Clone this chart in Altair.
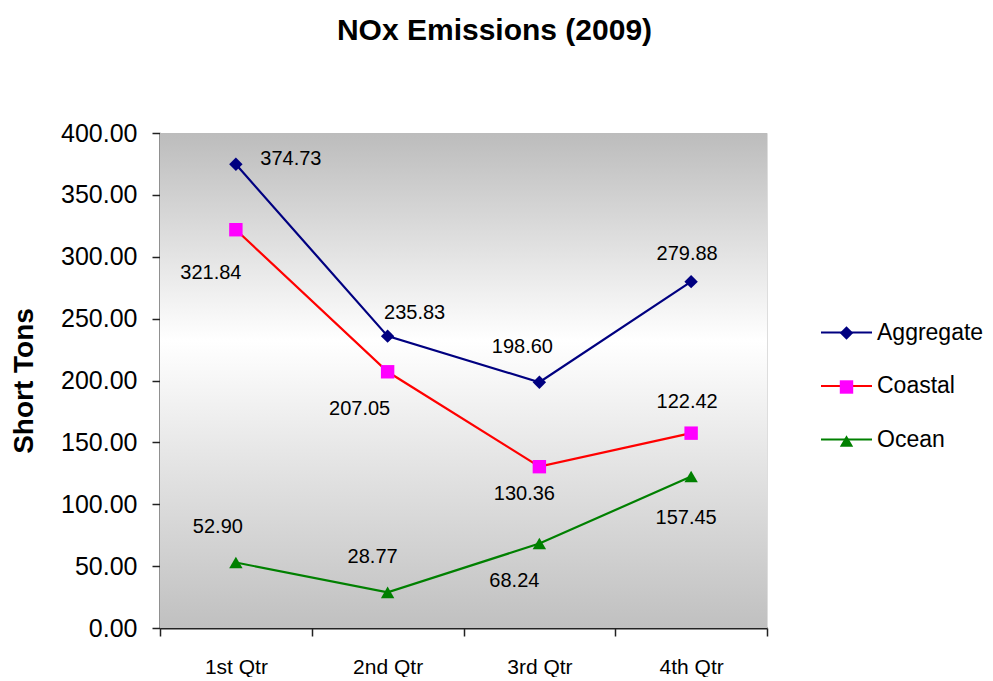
import altair as alt
import pandas as pd

quarters = ["1st Qtr", "2nd Qtr", "3rd Qtr", "4th Qtr"]
series_names = ["Aggregate", "Coastal", "Ocean"]
aggregate = [374.73, 235.83, 198.60, 279.88]
coastal = [321.84, 207.05, 130.36, 157.45]
ocean = [52.90, 28.77, 68.24, 122.42]
# data labels exactly as printed on the original chart
aggregate_labels = ["374.73", "235.83", "198.60", "279.88"]
coastal_labels = ["321.84", "207.05", "130.36", "122.42"]
ocean_labels = ["52.90", "28.77", "68.24", "157.45"]

line_colors = ["#000080", "#ff0000", "#008000"]
marker_colors = ["#000080", "#ff00ff", "#008000"]
marker_shapes = ["diamond", "square", "triangle-up"]

rows = []
for name, vals, labs in zip(series_names, [aggregate, coastal, ocean],
                            [aggregate_labels, coastal_labels, ocean_labels]):
    for q, v, l in zip(quarters, vals, labs):
        rows.append({"quarter": q, "series": name, "value": v, "label": l})
df = pd.DataFrame(rows)

# label placement offsets (dx, dy) relative to each point
label_offsets = {
    ("Aggregate", "1st Qtr"): (55, -5),
    ("Aggregate", "2nd Qtr"): (27, -23),
    ("Aggregate", "3rd Qtr"): (-17, -35),
    ("Aggregate", "4th Qtr"): (-4, -28),
    ("Coastal", "1st Qtr"): (-25, 43),
    ("Coastal", "2nd Qtr"): (-28, 37),
    ("Coastal", "3rd Qtr"): (-15, 27),
    ("Coastal", "4th Qtr"): (-4, -31),
    ("Ocean", "1st Qtr"): (-18, -36),
    ("Ocean", "2nd Qtr"): (-15, -35),
    ("Ocean", "3rd Qtr"): (-25, 37),
    ("Ocean", "4th Qtr"): (-5, 41),
}

FONT = "Liberation Sans"
W, H = 607, 495

x_enc = alt.X(
    "quarter:N",
    sort=quarters,
    bandPosition=0.5,
    scale=alt.Scale(type="band", domain=quarters, paddingInner=0, paddingOuter=0),
    axis=alt.Axis(
        title=None, labelAngle=0, tickBand="extent", tickSize=8, tickColor="#222",
        tickWidth=1.5, domainColor="#222", domainWidth=2, labelFontSize=21,
        labelFont=FONT, labelColor="black", labelPadding=20, grid=False,
    ),
)
y_enc = alt.Y(
    "value:Q",
    scale=alt.Scale(domain=[0, 400], nice=False),
    axis=alt.Axis(
        title="Short Tons", values=[0, 50, 100, 150, 200, 250, 300, 350, 400],
        format=".2f", tickSize=8, tickColor="#222", tickWidth=1.5,
        domainColor="#222", domainWidth=2, labelFontSize=25, labelFont=FONT,
        labelColor="black", labelPadding=15, grid=False, titleFont=FONT,
        titleFontSize=28, titleFontWeight="bold", titleColor="black",
        titlePadding=22,
    ),
)

base = alt.Chart(df)

background = alt.Chart(pd.DataFrame({"a": [0]})).mark_rect(
    color=alt.Gradient(
        gradient="linear",
        stops=[
            alt.GradientStop(offset=0, color="#bcbcbc"),
            alt.GradientStop(offset=0.42, color="#ffffff"),
            alt.GradientStop(offset=1, color="#c0c0c0"),
        ],
        x1=0, x2=0, y1=0, y2=1,
    )
).encode(x=alt.value(0), x2=alt.value("width"), y=alt.value(0), y2=alt.value("height"))

lines = base.mark_line(strokeWidth=2.2).encode(
    x=x_enc,
    y=y_enc,
    color=alt.Color(
        "series:N",
        scale=alt.Scale(domain=series_names, range=line_colors),
        legend=alt.Legend(
            title=None, orient="none", legendX=660, legendY=173, symbolType="stroke",
            symbolSize=2601, symbolStrokeWidth=2, labelFontSize=23, labelFont=FONT,
            labelColor="black", labelOffset=4, rowPadding=14.5, padding=0,
            labelLimit=300,
        ),
    ),
)

pt_legend = alt.Legend(
    title=None, orient="none", legendX=679.5, legendY=193, symbolSize=180,
    symbolStrokeWidth=0, labelExpr="''", labelFontSize=1, rowPadding=40,
    padding=0, symbolOpacity=1,
)
points = base.transform_calculate(series_pt="'' + datum.series").mark_point(
    filled=True, size=180, opacity=1, strokeWidth=0
).encode(
    x=x_enc,
    y=y_enc,
    fill=alt.Fill("series_pt:N", scale=alt.Scale(range=marker_colors),
                  legend=pt_legend),
    shape=alt.Shape("series_pt:N", scale=alt.Scale(range=marker_shapes),
                    legend=pt_legend),
)

text_layers = []
for (s, q), (dx, dy) in label_offsets.items():
    text_layers.append(
        base.transform_filter(
            (alt.datum.series == s) & (alt.datum.quarter == q)
        ).mark_text(
            dx=dx, dy=dy, fontSize=20, font=FONT, color="black",
            align="center", baseline="middle",
        ).encode(x=x_enc, y=y_enc, text="label:N")
    )

chart = alt.layer(background, lines, points, *text_layers).properties(
    width=W,
    height=H,
    title=alt.TitleParams(
        "NOx Emissions (2009)", fontSize=30, font=FONT, fontWeight="bold",
        color="black", anchor="middle", dx=31, offset=75,
    ),
    autosize=alt.AutoSizeParams(type="none"),
    padding={"left": 152, "top": 125, "right": 218, "bottom": 49},
).configure_view(stroke="#8a8a8a", strokeWidth=2).configure(background="white")

chart.save("out.html", embed_options={"renderer": "svg", "actions": False})
